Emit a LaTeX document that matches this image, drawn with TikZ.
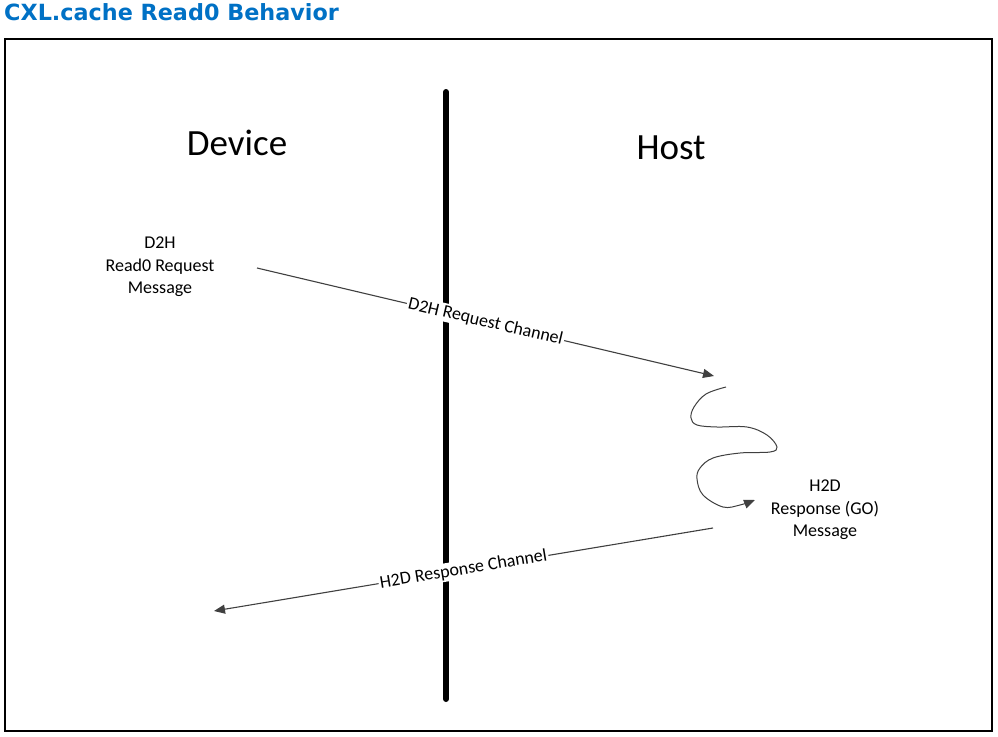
\documentclass[tikz,border=0pt]{standalone}
\usepackage{fontspec}
\setmainfont{Carlito}
\newfontfamily\titlefont{DejaVu Sans}
\usetikzlibrary{arrows.meta}
\definecolor{titleblue}{HTML}{0071C5}
\definecolor{linegray}{HTML}{404040}
\tikzset{
  big/.style={font=\fontsize{37}{44}\selectfont, inner sep=0pt},
  msg/.style={font=\fontsize{18}{22.5}\selectfont, align=center, inner sep=0pt},
  chan/.style={font=\fontsize{18}{22}\selectfont, fill=white, inner sep=1.5pt, sloped, midway, text=black},
  msgarrow/.style={draw=linegray, line width=1.1pt, -{Triangle[length=11pt,width=9pt]}},
  squig/.style={draw=linegray, line width=1pt, -{Triangle[length=11pt,width=9pt]}},
}
\begin{document}
\begin{tikzpicture}[x=1pt,y=-1pt]
\useasboundingbox (0,0) rectangle (998,736);
\fill[white] (0,0) rectangle (998,736);
\node[anchor=west, inner sep=0pt, text=titleblue, font=\titlefont\bfseries\fontsize{22.3}{25}\selectfont] (title) at (4,12) {CXL.cache Read0 Behavior};
\draw[line width=2pt] (5,39) rectangle (992,731);
\coordinate (vtop) at (446,92);
\coordinate (vbot) at (446,699);
\draw[line width=6pt, line cap=round] (vtop) -- (vbot);
\node[big] (device) at (237,143) {Device};
\node[big] (host) at (671,148) {Host};
\node[msg] (req) at (160,267) {D2H\\Read0 Request\\Message};
\node[msg] (rsp) at (825,510) {H2D\\Response (GO)\\Message};
\coordinate (a1s) at (257,268);
\coordinate (a1e) at (714,376);
\coordinate (a2s) at (713,528);
\coordinate (a2e) at (214,611);
\draw[msgarrow] (a1s) -- node[chan] (c1) {D2H Request Channel} (a1e);
\draw[msgarrow] (a2s) -- node[chan] (c2) {H2D Response Channel} (a2e);
\draw[squig] plot[smooth, tension=0.6] coordinates {(726,387) (706,394) (694,407) (691,418) (697,425) (717,427) (747,427) (767,435) (777,447) (770,452) (740,453) (713,458) (700,468) (697,479) (703,495) (723,507) (740,505) (755,500)};
\end{tikzpicture}
\end{document}
